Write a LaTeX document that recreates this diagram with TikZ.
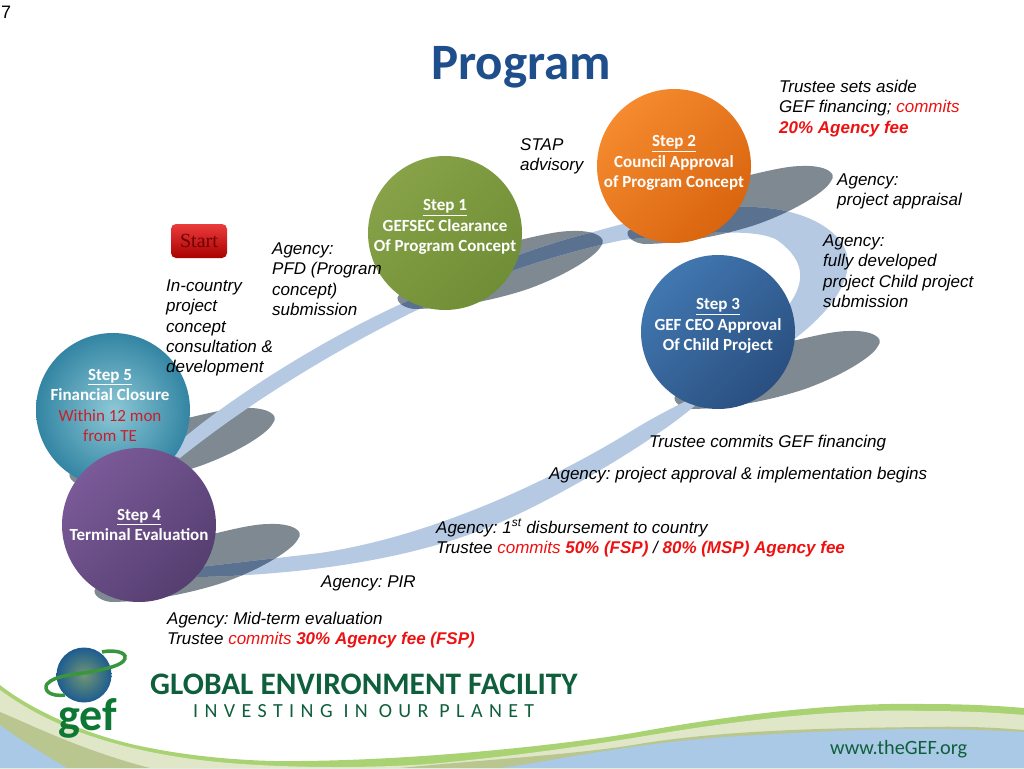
\documentclass[tikz,border=0pt]{standalone}
\usepackage{fontspec}
\setmainfont{Liberation Sans}
\newfontfamily\stepfont{Carlito}
\newfontfamily\startfont{Liberation Serif}
\usetikzlibrary{positioning,shapes.geometric}
\definecolor{ribbonblue}{HTML}{B5C9E2}
\definecolor{shadowgray}{HTML}{7E8992}
\definecolor{shadowdeep}{HTML}{5A7290}
\definecolor{gefgreen}{HTML}{0F5F3C}
\definecolor{titleblue}{HTML}{1F4E8C}
\definecolor{noteRed}{HTML}{EE1111}
\definecolor{waveblue}{HTML}{A9C9E6}
\definecolor{wavegreen}{HTML}{A9D273}
\definecolor{wavebeige}{HTML}{E0E6C8}
\definecolor{waveolive}{HTML}{B9C68F}
\definecolor{closeRed}{HTML}{C8202A}
\tikzset{
    %Define style for step balls
    stepball/.style={
           circle,
           minimum size=154pt,
           inner sep=0pt
           },
    %Define style for ball texts
    steptext/.style={
           inner sep=0pt,
           align=center,
           text=white,
           font=\fontsize{17}{20.4}\selectfont\stepfont\bfseries
           },
    %Define style for italic notes
    note/.style={
           anchor=north west,
           inner sep=0pt,
           align=left,
           font=\fontsize{17}{20.3}\selectfont\itshape\frenchspacing
           },
    %Define style for ball shadows
    pics/tear/.style={
      code={
        \fill[#1] (-102,26) .. controls (-60,0) and (-10,-25) .. (20,-30)
            .. controls (45,-36) and (60,-39) .. (72,-39)
            .. controls (95,-40) and (108,-32) .. (101,-24)
            .. controls (95,-12) and (60,8) .. (25,20)
            .. controls (0,28) and (-40,38) .. (-84,39)
            .. controls (-95,39) and (-105,32) .. cycle;
      }
    }
}
\newcommand{\ribbonpath}{(167,453) .. controls (200,420) and (300,350) .. (403,303)
    .. controls (470,272) and (540,245) .. (590,233)
    .. controls (640,218) and (700,206) .. (750,207)
    .. controls (810,208) and (850,235) .. (848,265)
    .. controls (846,290) and (825,315) .. (797,337)
    .. controls (750,375) and (690,395) .. (633,430)
    .. controls (560,475) and (440,535) .. (320,553)
    -- (200,567) -- (197,577)
    .. controls (300,575) and (420,560) .. (510,518)
    .. controls (560,495) and (620,460) .. (663,430)
    .. controls (700,405) and (760,350) .. (785,310)
    .. controls (805,285) and (808,262) .. (777,240)
    .. controls (760,230) and (715,230) .. (623,240)
    .. controls (550,255) and (480,280) .. (413,312)
    .. controls (320,358) and (240,410) .. (180,458) -- cycle}
\begin{document}
\begin{tikzpicture}[x=1pt,y=-1pt]
\useasboundingbox (0,0) rectangle (1024,768);
 %waves
\fill[wavegreen] (0,685) .. controls (25,705) and (80,735) .. (150,748)
    .. controls (200,758) and (260,762) .. (300,761)
    .. controls (420,760) and (560,745) .. (633,733)
    .. controls (720,717) and (830,702) .. (924,704)
    .. controls (970,704) and (1000,706) .. (1024,708) -- (1024,768) -- (0,768) -- cycle;
\fill[wavebeige] (0,690) .. controls (25,708) and (80,745) .. (200,760)
    .. controls (280,770) and (400,768) .. (450,762)
    .. controls (520,755) and (570,748) .. (633,738)
    .. controls (720,723) and (830,708) .. (924,711)
    .. controls (970,711) and (1000,713) .. (1024,715) -- (1024,768) -- (0,768) -- cycle;
\fill[waveolive] (0,712) .. controls (25,722) and (80,750) .. (150,768) -- (400,768)
    .. controls (480,760) and (570,755) .. (633,745)
    .. controls (720,730) and (830,728) .. (924,727)
    .. controls (970,726) and (1000,728) .. (1024,730) -- (1024,768) -- (0,768) -- cycle;
\fill[waveblue] (0,725) .. controls (20,740) and (45,755) .. (67,768) -- (500,768)
    .. controls (560,760) and (620,745) .. (724,737)
    .. controls (790,733) and (860,729) .. (924,729)
    .. controls (970,729) and (1000,731) .. (1024,732) -- (1024,768) -- (0,768) -- cycle;
 %shadows and ribbon
\pic at (730,205) {tear=shadowgray};
\pic at (500,270) {tear=shadowgray};
\pic at (777,370) {tear=shadowgray};
\pic at (172,447) {tear=shadowgray};
\pic at (197,563) {tear=shadowgray};
\fill[ribbonblue] \ribbonpath;
\begin{scope}
\clip \ribbonpath;
\pic at (730,205) {tear=shadowdeep};
\pic at (500,270) {tear=shadowdeep};
\pic at (197,563) {tear=shadowdeep};
\end{scope}
 %nodes
\node[stepball, left color={rgb,255:red,245;green,138;blue,46}, right color={rgb,255:red,217;green,101;blue,15}, shading angle=45] (step2) at (674,166) {};
\node[stepball, left color={rgb,255:red,135;green,162;blue,72}, right color={rgb,255:red,112;green,142;blue,54}, shading angle=45] (step1) at (445,233) {};
\node[stepball, left color={rgb,255:red,65;green,119;blue,176}, right color={rgb,255:red,42;green,79;blue,128}, shading angle=45] (step3) at (718,332) {};
\node[stepball, inner color={rgb,255:red,140;green,200;blue,214}, outer color={rgb,255:red,51;green,133;blue,163}] (step5) at (113,410) {};
\node[stepball, left color={rgb,255:red,122;green,90;blue,152}, right color={rgb,255:red,85;green,62;blue,112}, shading angle=45] (step4) at (139,525) {};
\node[steptext, yshift=3pt] (step2text) at (step2) {\underline{Step 2}\\Council Approval\\of Program Concept};
\node[steptext, yshift=6pt] (step1text) at (step1) {\underline{Step 1}\\GEFSEC Clearance\\Of Program Concept};
\node[steptext, yshift=6pt] (step3text) at (step3) {\underline{Step 3}\\GEF CEO Approval\\Of Child Project};
\node[steptext, xshift=-3pt, yshift=4.5pt] (step5text) at (step5) {\underline{Step 5}\\Financial Closure\\{\mdseries\color{closeRed}Within 12 mon}\\{\mdseries\color{closeRed}from TE}};
\node[steptext] (step4text) at (step4) {\underline{Step 4}\\Terminal Evaluation};
\node[rectangle, rounded corners=5pt, minimum width=56pt, minimum height=34pt, inner sep=0pt, top color={rgb,255:red,235;green,60;blue,60}, middle color=red, bottom color={rgb,255:red,170;green,0;blue,0}, font=\fontsize{20}{22}\selectfont\startfont, text={rgb,255:red,110;green,0;blue,0}] (start) at (199,241) {Start};
 %texts
\node[anchor=north west, inner sep=0pt, font=\fontsize{18}{20}\selectfont] (pagenum) at (1,6) {7};
\node[inner sep=0pt, font=\fontsize{51}{54}\selectfont\stepfont\bfseries, text=titleblue] (title) at (521,67) {Program};
\node[note] (fee2) at (779,80) {Trustee sets aside\\GEF financing; \textcolor{noteRed}{commits}\\\textcolor{noteRed}{\textbf{20\% Agency fee}}};
\node[note] (stap) at (520,138) {STAP\\advisory};
\node[note] (appraisal) at (837,173.5) {Agency:\\project appraisal};
\node[note] (submission) at (823,234.5) {Agency:\\fully developed\\project Child project\\submission};
\node[note] (pfd) at (272,242.5) {Agency:\\PFD (Program\\concept)\\submission};
\node[note] (incountry) at (166,279.5) {In-country\\project\\concept\\consultation \&\\development};
\node[note] (commits) at (649,435) {Trustee commits GEF financing};
\node[note] (approval) at (549,467) {Agency: project approval \& implementation begins};
\node[note] (disburse) at (436,519) {Agency: 1\textsuperscript{st} disbursement to country\\Trustee \textcolor{noteRed}{commits \textbf{50\% (FSP)}} / \textcolor{noteRed}{\textbf{80\% (MSP) Agency fee}}};
\node[note] (pir) at (321,576) {Agency: PIR};
\node[note] (midterm) at (167,612) {Agency: Mid-term evaluation\\Trustee \textcolor{noteRed}{commits \textbf{30\% Agency fee (FSP)}}};
 %logo
\node[circle, minimum size=55pt, inner sep=0pt, inner color={rgb,255:red,112;green,150;blue,115}, outer color={rgb,255:red,29;green,92;blue,144}] (globe) at (84,675) {};
\draw[line width=3.5pt, color={rgb,255:red,58;green,150;blue,60}] (65,695) .. controls (50,697) and (43,690) .. (47,684)
    .. controls (55,675) and (75,675) .. (95,671) .. controls (110,668) and (127,664) .. (125,656)
    .. controls (123,651) and (110,650) .. (102,652);
\node[anchor=base, inner sep=0pt, font=\fontsize{46}{50}\selectfont\stepfont\bfseries, text=gefgreen!85!green] (gef) at (88,730) {gef};
\node[anchor=west, inner sep=0pt, font=\fontsize{31.3}{32}\selectfont\stepfont\bfseries, text=gefgreen] (gefname) at (150,684) {GLOBAL ENVIRONMENT FACILITY};
\node[anchor=west, inner sep=0pt, font=\fontsize{20}{22}\selectfont\stepfont, text=gefgreen] (gefmotto) at (193,711) {\addfontfeature{LetterSpace=32}INVESTING IN OUR PLANET};
\node[anchor=west, inner sep=0pt, font=\fontsize{20.3}{24}\selectfont\stepfont, text=gefgreen] (gefweb) at (830,749) {www.theGEF.org};
\end{tikzpicture}
\end{document}
